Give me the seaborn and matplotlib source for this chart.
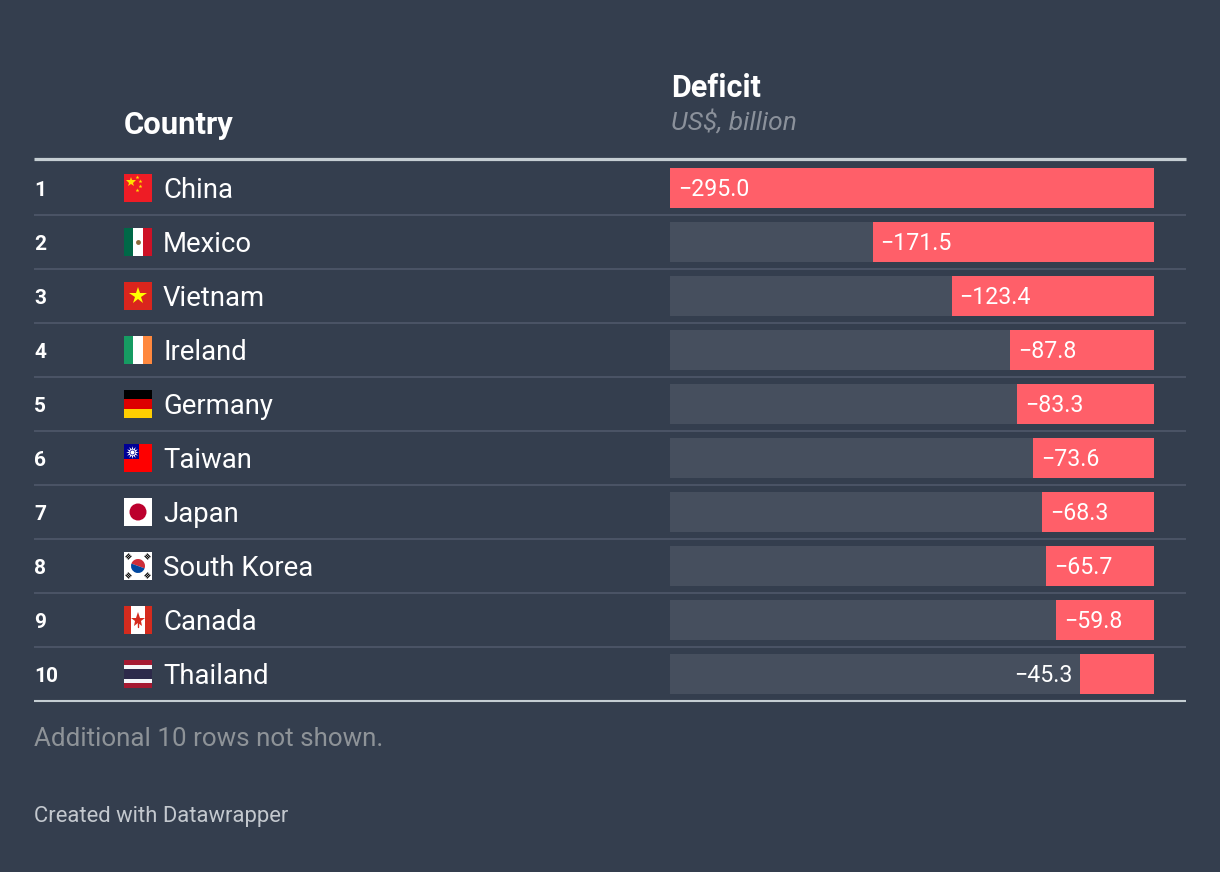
import matplotlib
matplotlib.use("Agg")
import matplotlib.pyplot as plt
import matplotlib.patches as mpatches
import seaborn as sns
import pandas as pd

# data
ranks = [1, 2, 3, 4, 5, 6, 7, 8, 9, 10]
countries = ["China", "Mexico", "Vietnam", "Ireland", "Germany",
             "Taiwan", "Japan", "South Korea", "Canada", "Thailand"]
flag_codes = ["cn", "mx", "vn", "ie", "de", "tw", "jp", "kr", "ca", "th"]
deficit = [-295.0, -171.5, -123.4, -87.8, -83.3, -73.6, -68.3, -65.7, -59.8, -45.3]

BG = "#343e4e"
TRACK = "#464f5e"
RED = "#ff5f69"
SEP = "#4a5365"
RULE = "#c5ced3"

sns.set_theme(style="white")
plt.rcParams["font.family"] = ["Roboto", "DejaVu Sans"]

W, H = 1220, 872
fig = plt.figure(figsize=(W / 100, H / 100), dpi=100, facecolor=BG)
ax0 = fig.add_axes([0, 0, 1, 1])
ax0.set_xlim(0, W)
ax0.set_ylim(H, 0)
ax0.axis("off")

TOP, ROW_H = 161, 54
LEFT, RIGHT = 34, 1186
BAR_L, BAR_R = 670, 1154
n = len(countries)

# bar column
axb = fig.add_axes([BAR_L / W, 1 - (TOP + ROW_H * n) / H,
                    (BAR_R - BAR_L) / W, ROW_H * n / H])
df = pd.DataFrame({"country": countries, "deficit": deficit})
df["size"] = df["deficit"].abs()
vmax = df["size"].max()
df["full"] = vmax
sns.barplot(data=df, x="full", y="country", color=TRACK, width=0.74,
            saturation=1, linewidth=0, ax=axb)
sns.barplot(data=df, x="size", y="country", color=RED, width=0.74,
            saturation=1, linewidth=0, ax=axb)
axb.set_xlim(vmax, 0)
axb.set_ylim(n - 0.5, -0.5)
axb.axis("off")

for i, v in enumerate(df["size"]):
    label = "\u2212" + f"{v:.1f}"
    if v >= 50:
        axb.annotate(label, xy=(v, i), xytext=(8, -8), textcoords="offset pixels",
                     ha="left", va="baseline", color="white", fontsize=16.7)
    else:
        axb.annotate(label, xy=(v, i), xytext=(-7, -8), textcoords="offset pixels",
                     ha="right", va="baseline", color="white", fontsize=16.7)


def draw_flag(ax, code, x, yc):
    s = 28
    y = yc - s / 2

    def rect(x0, y0, w, h, c):
        ax.add_patch(mpatches.Rectangle((x0, y0), w, h, color=c, lw=0))

    if code == "cn":
        rect(x, y, s, s, "#ee1c25")
        ax.plot(x + 7, y + 8, marker="*", ms=7, color="#ffde00", mew=0)
        for dx, dy in [(13, 3), (16, 7), (16, 12), (13, 16)]:
            ax.plot(x + dx, y + dy, marker="*", ms=3, color="#ffde00", mew=0)
    elif code == "mx":
        rect(x, y, s / 3, s, "#006847")
        rect(x + s / 3, y, s / 3, s, "white")
        rect(x + 2 * s / 3, y, s / 3, s, "#ce1126")
        ax.plot(x + s / 2, y + s / 2, marker="o", ms=3.5, color="#8c6a3a", mew=0)
    elif code == "vn":
        rect(x, y, s, s, "#da251d")
        ax.plot(x + s / 2, y + s / 2, marker="*", ms=13, color="#ffff00", mew=0)
    elif code == "ie":
        rect(x, y, s / 3, s, "#169b62")
        rect(x + s / 3, y, s / 3, s, "white")
        rect(x + 2 * s / 3, y, s / 3, s, "#ff883e")
    elif code == "de":
        rect(x, y, s, s / 3, "#000000")
        rect(x, y + s / 3, s, s / 3, "#dd0000")
        rect(x, y + 2 * s / 3, s, s / 3, "#ffce00")
    elif code == "tw":
        rect(x, y, s, s, "#fe0000")
        rect(x, y, s / 2 + 1, s / 2 + 1, "#000095")
        ax.plot(x + 7.5, y + 7.5, marker=(12, 1, 0), ms=9, color="white", mew=0)
        ax.plot(x + 7.5, y + 7.5, marker="o", ms=4, color="#000095", mew=0)
        ax.plot(x + 7.5, y + 7.5, marker="o", ms=3, color="white", mew=0)
    elif code == "jp":
        rect(x, y, s, s, "white")
        ax.add_patch(mpatches.Circle((x + s / 2, yc), 8.5, color="#bc002d", lw=0))
    elif code == "kr":
        rect(x, y, s, s, "white")
        ax.add_patch(mpatches.Wedge((x + s / 2, yc), 7, 200, 20, color="#cd2e3a", lw=0))
        ax.add_patch(mpatches.Wedge((x + s / 2, yc), 7, 20, 200, color="#0047a0", lw=0))
        for sx, sy in [(-1, -1), (1, -1), (-1, 1), (1, 1)]:
            cx, cy = x + s / 2 + sx * 9.5, yc + sy * 9.5
            for k in (-1.6, 0, 1.6):
                ox, oy = k * 0.707 * sx, k * 0.707 * sy
                ax.plot([cx + ox - 2.5 * 0.707 * sy, cx + ox + 2.5 * 0.707 * sy],
                        [cy + oy + 2.5 * 0.707 * sx, cy + oy - 2.5 * 0.707 * sx],
                        color="black", lw=0.8, solid_capstyle="butt")
    elif code == "ca":
        rect(x, y, s, s, "white")
        rect(x, y, s / 4, s, "#d52b1e")
        rect(x + 3 * s / 4, y, s / 4, s, "#d52b1e")
        ax.plot(x + s / 2, yc - 0.5, marker="*", ms=11, color="#d52b1e", mew=0)
        ax.plot([x + s / 2, x + s / 2], [yc + 3, yc + 7], color="#d52b1e", lw=1)
    elif code == "th":
        h6 = s / 6
        rect(x, y, s, s, "#a51931")
        rect(x, y + h6, s, 4 * h6, "#f4f5f8")
        rect(x, y + 2 * h6, s, 2 * h6, "#2d2a4a")


# rows
for i in range(n):
    yc = TOP + ROW_H * (i + 0.5)
    ax0.text(LEFT, yc + 7.5, str(ranks[i]), fontsize=15, fontweight="bold",
             color="white", va="baseline", ha="left")
    draw_flag(ax0, flag_codes[i], 124, yc)
    ax0.text(163, yc + 9.5, countries[i], fontsize=19.8, color="white",
             va="baseline", ha="left")
    if i > 0:
        ax0.plot([LEFT, RIGHT], [TOP + ROW_H * i] * 2, color=SEP, lw=1.5,
                 solid_capstyle="butt")

ax0.plot([LEFT, RIGHT], [159.5, 159.5], color=RULE, lw=2.3, solid_capstyle="butt")
ax0.plot([LEFT, RIGHT], [TOP + ROW_H * n, TOP + ROW_H * n], color=RULE, lw=1.5,
         solid_capstyle="butt")

# headers
ax0.text(124, 134, "Country", fontsize=22.3, fontweight="bold", color="white",
         va="baseline")
ax0.text(671, 97, "Deficit", fontsize=22, fontweight="bold", color="white",
         va="baseline")
ax0.text(671, 130, "US$, billion", fontsize=19, fontstyle="italic",
         color="#8b919b", va="baseline")

# footer
ax0.text(LEFT, 746, "Additional 10 rows not shown.", fontsize=18.75, color="#8e9398",
         va="baseline")
ax0.text(LEFT, 822, "Created with Datawrapper", fontsize=15.8, color="#c3c8ce",
         va="baseline")

fig.savefig("out.png", dpi=100, facecolor=BG)
